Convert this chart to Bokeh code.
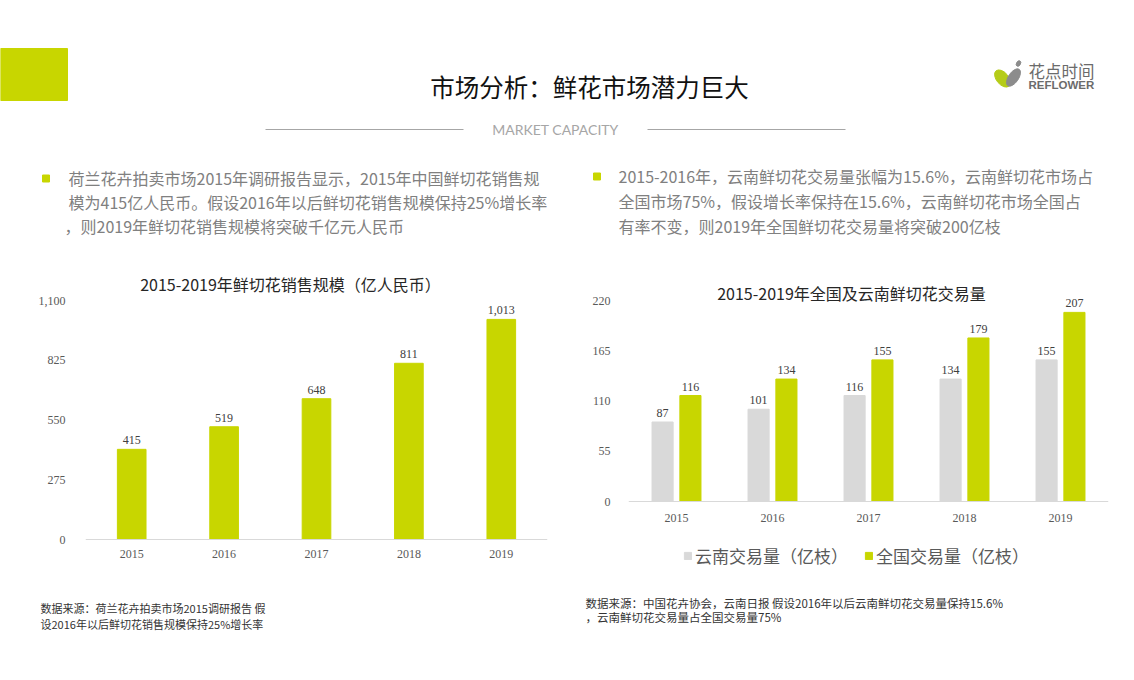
from bokeh.plotting import figure
from bokeh.models import (Range1d, FactorRange, ColumnDataSource, FixedTicker, Label, Span,
                          NumeralTickFormatter, LabelSet, Legend, LegendItem)
from bokeh.transform import dodge
from bokeh.layouts import column, row
from bokeh.core.properties import value
from bokeh.embed import file_html
from bokeh.resources import INLINE

# ---------------- data ----------------
years = ["2015", "2016", "2017", "2018", "2019"]
sales_scale = [415, 519, 648, 811, 1013]          # 亿人民币
yunnan_volume = [87, 101, 116, 134, 155]          # 亿枝
national_volume = [116, 134, 155, 179, 207]       # 亿枝
left_ticks = [0, 275, 550, 825, 1100]
right_ticks = [0, 55, 110, 165, 220]

page_title = "市场分析：鲜花市场潜力巨大"
subtitle = "MARKET CAPACITY"
left_bullet = ["荷兰花卉拍卖市场2015年调研报告显示，2015年中国鲜切花销售规",
               "模为415亿人民币。假设2016年以后鲜切花销售规模保持25%增长率",
               "，则2019年鲜切花销售规模将突破千亿元人民币"]
right_bullet = ["2015-2016年，云南鲜切花交易量张幅为15.6%，云南鲜切花市场占",
                "全国市场75%，假设增长率保持在15.6%，云南鲜切花市场全国占",
                "有率不变，则2019年全国鲜切花交易量将突破200亿枝"]
left_chart_title = "2015-2019年鲜切花销售规模（亿人民币）"
right_chart_title = "2015-2019年全国及云南鲜切花交易量"
legend_labels = ["云南交易量（亿枝）", "全国交易量（亿枝）"]
left_source = ["数据来源：荷兰花卉拍卖市场2015调研报告 假", "设2016年以后鲜切花销售规模保持25%增长率"]
right_source = ["数据来源：中国花卉协会，云南日报 假设2016年以后云南鲜切花交易量保持15.6%",
                "，云南鲜切花交易量占全国交易量75%"]

GREEN = "#c8d600"
GRAY_BAR = "#d9d9d9"
CJK = "Noto Sans CJK SC"
SERIF = "Liberation Serif"

W = 1134

def canvas(w, h):
    f = figure(width=w, height=h, x_range=Range1d(0, w), y_range=Range1d(h, 0),
               output_backend="svg", toolbar_location=None, min_border=0,
               x_axis_location=None, y_axis_location=None, outline_line_color=None)
    f.grid.visible = False
    return f

# ---------------- header (page y 0..262) ----------------
HH = 262
H = canvas(W, HH)

H.quad(left=[0], right=[67], top=[48], bottom=[100], color=GREEN)
H.text(x=[589], y=[86], text=[page_title], text_align="center", text_baseline="middle",
       text_font=value(CJK), text_font_size="24.5px", text_color="#111111")
H.segment(x0=[265, 647], y0=[129, 129], x1=[463, 845], y1=[129, 129],
          line_color="#a6a6a6", line_width=1)
H.text(x=[555], y=[129], text=[subtitle], text_align="center", text_baseline="middle",
       text_font=value("Lato"), text_font_size="14px", text_color="#a6a6a6")

# logo
H.ellipse(x=[1002], y=[78], width=12, height=20, angle=0.7, color="#b5cc18")
H.ellipse(x=[1013], y=[77], width=10, height=20, angle=-0.6, color="#8c8c8c")
H.ellipse(x=[1018], y=[63], width=4, height=6, angle=-0.5, color="#8c8c8c")
H.text(x=[1028], y=[70], text=["花点时间"], text_align="left", text_baseline="middle",
       text_font=value(CJK), text_font_size="16.5px", text_color="#6b6b6b")
H.text(x=[1028], y=[84], text=["REFLOWER"], text_align="left", text_baseline="middle",
       text_font=value("Liberation Sans"), text_font_size="11.5px", text_font_style="bold",
       text_color="#6b6b6b")

# bullets
H.rect(x=[45.5, 596.5], y=[178, 176], width=7, height=7, color=GREEN)
H.text(x=[68, 68, 64], y=[177, 201, 225], text=left_bullet,
       text_align="left", text_baseline="middle", text_font=value(CJK),
       text_font_size="16px", text_color="#808080")
H.text(x=[618, 618, 618], y=[175, 200, 225], text=right_bullet,
       text_align="left", text_baseline="middle", text_font=value(CJK),
       text_font_size="16px", text_color="#808080")

# ---------------- chart helpers ----------------
CH = 328            # chart row: page y 262..590
FRAME_TOP = 269     # both chart frames span page y 269..575 (frames are aligned in a row)
FRAME_BOT = 575

def chart(width, ticks, zero_y, top_y, label_y, border_left, border_right, standoff):
    k = (zero_y - top_y) / ticks[-1]
    y_hi = (zero_y - FRAME_TOP) / k
    y_lo = -(FRAME_BOT - zero_y) / k
    p = figure(width=width, height=CH, x_range=FactorRange(factors=years),
               y_range=Range1d(y_lo, y_hi), output_backend="svg", toolbar_location=None,
               x_axis_location=None, min_border_left=border_left,
               min_border_right=border_right, min_border_top=FRAME_TOP - 262,
               min_border_bottom=262 + CH - FRAME_BOT)
    p.yaxis.ticker = FixedTicker(ticks=ticks)
    p.yaxis.formatter = NumeralTickFormatter(format="0,0")
    p.yaxis.axis_line_color = None
    p.yaxis.major_tick_line_color = None
    p.yaxis.minor_tick_line_color = None
    p.yaxis.major_label_standoff = standoff
    p.yaxis.major_label_text_font = SERIF
    p.yaxis.major_label_text_font_size = "12px"
    p.yaxis.major_label_text_color = "#595959"
    p.grid.visible = False
    p.outline_line_color = None
    # category axis: base line + year labels
    p.add_layout(Span(location=0, dimension="width", line_color="#d9d9d9", line_width=1))
    ysrc = ColumnDataSource(dict(year=years, y=[-(label_y - zero_y) / k] * len(years)))
    p.text(x="year", y="y", text="year", source=ysrc, text_align="center",
           text_baseline="middle", text_font=value(SERIF), text_font_size="12px",
           text_color="#595959")
    return p, k

# ---------------- left chart ----------------
src_l = ColumnDataSource(dict(year=years, val=sales_scale, lab=[f"{v:,}" for v in sales_scale]))
L, kL = chart(568, left_ticks, zero_y=539, top_y=300, label_y=553,
              border_left=85, border_right=21, standoff=14)
L.vbar(x="year", top="val", width=0.31, source=src_l, color=GREEN)
L.add_layout(LabelSet(x="year", y="val", text="lab", source=src_l, y_offset=5,
                      text_align="center", text_baseline="bottom", text_font=value(SERIF),
                      text_font_size="12px", text_color="#404040"))
L.add_layout(Label(x=2.5, y=(539 - 283) / kL, x_offset=-26, text=left_chart_title,
                   text_align="center", text_baseline="middle", text_font=CJK,
                   text_font_size="16px", text_color="#262626"))

# ---------------- right chart ----------------
src_r = ColumnDataSource(dict(year=years, yn=yunnan_volume, nat=national_volume,
                              yn_lab=[str(v) for v in yunnan_volume],
                              nat_lab=[str(v) for v in national_volume]))
R, kR = chart(566, right_ticks, zero_y=501, top_y=300, label_y=517,
              border_left=60, border_right=26, standoff=12)
r1 = R.vbar(x=dodge("year", -0.145, range=R.x_range), top="yn", width=0.22, source=src_r,
            color=GRAY_BAR)
r2 = R.vbar(x=dodge("year", 0.145, range=R.x_range), top="nat", width=0.22, source=src_r,
            color=GREEN)
for col, lab, off in (("yn", "yn_lab", -0.145), ("nat", "nat_lab", 0.145)):
    R.add_layout(LabelSet(x=dodge("year", off, range=R.x_range), y=col, text=lab, source=src_r,
                          y_offset=5, text_align="center", text_baseline="bottom",
                          text_font=value(SERIF), text_font_size="12px", text_color="#404040"))
R.add_layout(Label(x=2.5, y=(501 - 292) / kR, x_offset=-17, text=right_chart_title,
                   text_align="center", text_baseline="middle", text_font=CJK,
                   text_font_size="16px", text_color="#262626"))
legend = Legend(items=[LegendItem(label=legend_labels[0], renderers=[r1]),
                       LegendItem(label=legend_labels[1], renderers=[r2])],
                orientation="horizontal", location=(55, 7),
                label_text_font=CJK, label_text_font_size="17px", label_text_color="#595959",
                glyph_width=9, glyph_height=9, label_standoff=3, spacing=16,
                border_line_color=None, background_fill_alpha=0, padding=2, margin=0)
R.add_layout(legend)

# ---------------- footer (page y 590..680) ----------------
FH = 90
F = canvas(W, FH)
FY = lambda py: py - 590
F.text(x=[40, 40], y=[FY(607), FY(623)], text=left_source, text_align="left",
       text_baseline="middle", text_font=value(CJK), text_font_size="11px", text_color="#333333")
F.text(x=[585, 585], y=[FY(602), FY(616)], text=right_source, text_align="left",
       text_baseline="middle", text_font=value(CJK), text_font_size="11.5px", text_color="#333333")

page = column(H, row(L, R), F)
open("out.html", "w").write(file_html(page, INLINE))
